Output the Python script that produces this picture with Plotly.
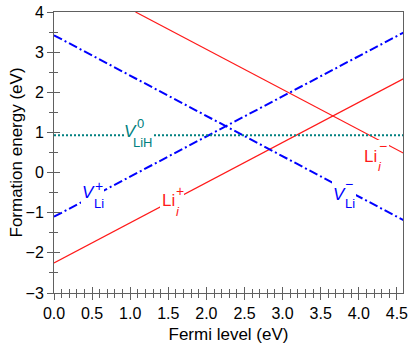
import plotly.graph_objects as go

# end points of each formation-energy line (Fermi level, eV)
x_ends = [0.0, 4.6]
li_plus = [-2.25, 2.35]        # Li_i^+
li_minus_x = [1.07, 4.6]
li_minus = [4.0, 0.47]         # Li_i^-
v_plus = [-1.1, 3.5]           # V_Li^+
v_minus = [3.42, -1.2]         # V_Li^-
v_lih = [0.93, 0.93]           # V_LiH^0

X_RANGE = [0, 4.58]
Y_RANGE = [-3, 4]

RED = '#ff1a1a'
BLUE = '#0000ff'
TEAL = '#008080'
AXC = '#606060'
FONT = 'Liberation Sans, Arial, sans-serif'

W, H = 415, 348
ML, MR, MT, MB = 54, 12, 12, 55


def px2data(px, py):
    """pixel position in the figure -> data coordinates"""
    x = X_RANGE[0] + (px - ML) / (W - ML - MR) * (X_RANGE[1] - X_RANGE[0])
    y = Y_RANGE[1] - (py - MT) / (H - MT - MB) * (Y_RANGE[1] - Y_RANGE[0])
    return x, y


fig = go.Figure()
fig.add_trace(go.Scatter(x=x_ends, y=li_plus, mode='lines', line=dict(color=RED, width=1.2)))
fig.add_trace(go.Scatter(x=li_minus_x, y=li_minus, mode='lines', line=dict(color=RED, width=1.2)))
fig.add_trace(go.Scatter(x=x_ends, y=v_plus, mode='lines',
                         line=dict(color=BLUE, width=2, dash='9px,3px,2px,3px')))
fig.add_trace(go.Scatter(x=x_ends, y=v_minus, mode='lines',
                         line=dict(color=BLUE, width=2, dash='9px,3px,2px,3px')))
fig.add_trace(go.Scatter(x=x_ends, y=v_lih, mode='lines',
                         line=dict(color=TEAL, width=2, dash='2px,2px')))
# dummy trace so the overlay axes (inner half of crossing ticks) get drawn
fig.add_trace(go.Scatter(x=[0], y=[0], xaxis='x2', yaxis='y2', mode='markers',
                         marker=dict(opacity=0), hoverinfo='skip'))

# white boxes that break the lines behind each label (pixel boxes)
label_boxes = [
    (124, 118, 154, 150),   # V_LiH^0
    (81, 181, 104, 209),    # V_Li^+
    (160, 186, 184, 217),   # Li_i^+
    (362, 140, 389, 172),   # Li_i^-
    (332, 180, 356, 207),   # V_Li^-
]
for x0p, y0p, x1p, y1p in label_boxes:
    x0, y0 = px2data(x0p, y0p)
    x1, y1 = px2data(x1p, y1p)
    fig.add_shape(type='rect', x0=x0, x1=x1, y0=y0, y1=y1, layer='above',
                  fillcolor='white', line=dict(width=0))

# label pieces: (px, py, text, size, colour)
pieces = [
    # V_LiH^0
    (130, 131, '<i>V</i>', 17, TEAL),
    (143, 142, 'LiH', 13, TEAL),
    (140, 123, '0', 13, TEAL),
    # V_Li^+
    (88, 192, '<i>V</i>', 17, BLUE),
    (99, 203, 'Li', 13, BLUE),
    (99, 186, '+', 14, BLUE),
    # Li_i^+
    (168, 200, 'Li', 17, RED),
    (178, 211, '<i>i</i>', 13, RED),
    (180, 191, '+', 14, RED),
    # Li_i^-
    (370, 156, 'Li', 17, RED),
    (380, 166, '<i>i</i>', 13, RED),
    (383, 146, '\u2212', 14, RED),
    # V_Li^-
    (339, 194, '<i>V</i>', 17, BLUE),
    (350, 203, 'Li', 13, BLUE),
    (349, 184, '\u2212', 14, BLUE),
]
for px, py, txt, size, col in pieces:
    ax, ay = px2data(px, py)
    fig.add_annotation(x=ax, y=ay, text=txt, showarrow=False,
                       xanchor='center', yanchor='middle', borderpad=0,
                       font=dict(family=FONT, size=size, color=col))

# y-axis title placed as text so it sits where the original one does
fig.add_annotation(xref='paper', yref='paper', x=(16 - ML) / (W - ML - MR), y=0.5,
                   text='Formation energy (eV)', textangle=-90, showarrow=False,
                   xanchor='center', yanchor='middle', font=dict(family=FONT, size=17))

axis_common = dict(showline=True, linecolor=AXC, linewidth=1, showgrid=False,
                   zeroline=False, tickcolor=AXC, tickwidth=1, automargin=False)

fig.update_layout(
    width=W, height=H,
    margin=dict(l=ML, r=MR, t=MT, b=MB, autoexpand=False),
    paper_bgcolor='white', plot_bgcolor='white',
    showlegend=False,
    font=dict(family=FONT, size=16, color='black'),
    xaxis=dict(range=X_RANGE, dtick=0.5, tickformat='.1f', ticks='outside', ticklen=6,
               mirror=True, minor=dict(dtick=0.1, ticks='outside', ticklen=4, tickcolor=AXC),
               title=dict(text='Fermi level (eV)', font=dict(size=17), standoff=6),
               **axis_common),
    yaxis=dict(range=Y_RANGE, dtick=1, ticks='outside', ticklen=6, mirror=True,
               minor=dict(dtick=0.5, ticks='outside', ticklen=4, tickcolor=AXC),
               **axis_common),
    xaxis2=dict(overlaying='x', matches='x', side='bottom', ticks='inside', ticklen=6,
                dtick=0.5, showticklabels=False,
                minor=dict(dtick=0.1, ticks='inside', ticklen=4, tickcolor=AXC), **axis_common),
    yaxis2=dict(overlaying='y', matches='y', side='left', ticks='inside', ticklen=6,
                dtick=1, showticklabels=False,
                minor=dict(dtick=0.5, ticks='inside', ticklen=4, tickcolor=AXC), **axis_common),
)

fig.write_html("out.html", config={'displayModeBar': False},
               post_script="document.body.style.margin='0';")
